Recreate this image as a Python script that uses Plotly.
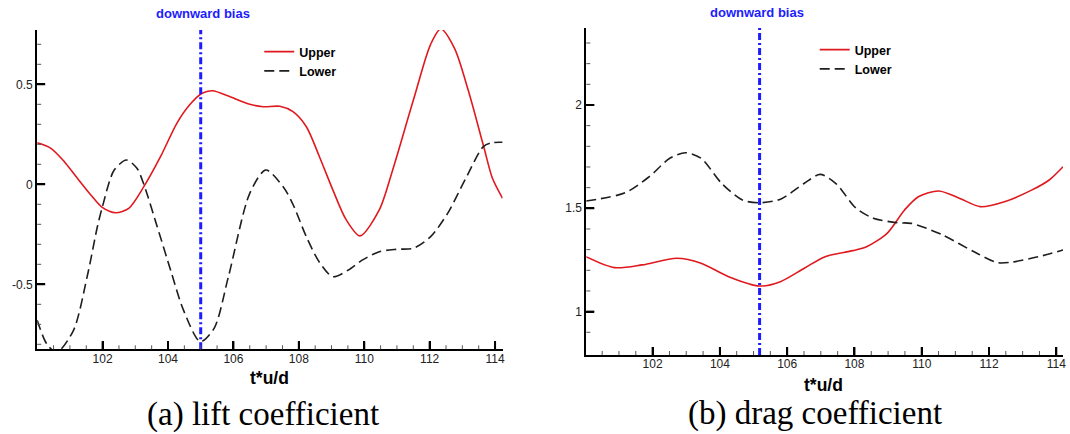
import plotly.graph_objects as go

# ---------------- data ----------------
# (a) lift coefficient
lift_upper_t = [100.0, 100.42, 100.83, 101.23, 101.64, 101.99, 102.4, 102.8, 103.26, 103.77,
                104.27, 104.65, 105.04, 105.36, 105.9, 106.5, 106.91, 107.42, 107.82, 108.23,
                108.63, 109.04, 109.45, 109.87, 110.46, 110.87, 111.5, 112.03, 112.34, 112.76,
                113.18, 113.65, 113.92, 114.23]
lift_upper = [0.208, 0.18, 0.113, 0.03, -0.053, -0.115, -0.142, -0.12, -0.012, 0.138,
              0.305, 0.395, 0.455, 0.468, 0.438, 0.40, 0.388, 0.39, 0.363, 0.288,
              0.138, -0.028, -0.178, -0.258, -0.128, 0.072, 0.42, 0.70, 0.777, 0.68,
              0.47, 0.19, 0.03, -0.07]
lift_lower_t = [100.0, 100.3, 100.6, 101.11, 101.53, 101.84, 101.99, 102.35, 102.73, 103.05,
                103.26, 103.67, 104.1, 104.47, 104.99, 105.41, 105.85, 106.5, 106.99, 107.52,
                107.82, 108.23, 108.63, 109.04, 109.5, 109.95, 110.46, 111.0, 111.5, 112.03,
                112.55, 113.08, 113.65, 113.92, 114.23]
lift_lower = [-0.68, -0.8, -0.84, -0.73, -0.46, -0.212, -0.115, 0.07, 0.1215, 0.08,
              0.0, -0.212, -0.44, -0.628, -0.787, -0.72, -0.46, -0.045, 0.0715, -0.012,
              -0.1, -0.262, -0.39, -0.462, -0.43, -0.378, -0.337, -0.325, -0.32, -0.262,
              -0.145, 0.022, 0.19, 0.208, 0.21]

# (b) drag coefficient
drag_upper_t = [100.02, 100.87, 101.69, 102.72, 103.44, 104.26, 105.18, 105.8, 106.51, 107.13,
                107.95, 108.36, 108.97, 109.49, 109.9, 110.51, 111.13, 111.74, 112.46, 113.28,
                113.79, 114.2]
drag_upper = [1.266, 1.213, 1.226, 1.258, 1.234, 1.169, 1.124, 1.145, 1.21, 1.266,
              1.295, 1.314, 1.379, 1.492, 1.556, 1.584, 1.548, 1.508, 1.532, 1.589,
              1.637, 1.701]
drag_lower_t = [100.02, 101.18, 101.9, 102.51, 102.98, 103.44, 104.05, 104.67, 105.18, 105.8,
                106.51, 106.98, 107.44, 108.05, 108.56, 109.28, 109.69, 110.62, 111.64, 112.25,
                112.66, 113.48, 114.2]
drag_lower = [1.535, 1.575, 1.653, 1.742, 1.769, 1.742, 1.621, 1.54, 1.527, 1.544,
              1.621, 1.664, 1.621, 1.5, 1.452, 1.43, 1.427, 1.371, 1.282, 1.237,
              1.239, 1.266, 1.298]

bias_a = 105.0
bias_b = 105.18

x_ticks = [102, 104, 106, 108, 110, 112, 114]
x_ticklabels = ["102", "104", "106", "108", "110", "112", "114"]
x_minor = [100.5, 101, 101.5, 102.5, 103, 103.5, 104.5, 105, 105.5, 106.5, 107, 107.5,
           108.5, 109, 109.5, 110.5, 111, 111.5, 112.5, 113, 113.5]
lift_ticks = [-0.5, 0, 0.5]
lift_ticklabels = ["-0.5", "0", "0.5"]
lift_minor = [-0.8, -0.7, -0.6, -0.4, -0.3, -0.2, -0.1, 0.1, 0.2, 0.3, 0.4, 0.6, 0.7]
drag_ticks = [1, 1.5, 2]
drag_ticklabels = ["1", "1.5", "2"]
drag_minor = [0.9, 1.1, 1.2, 1.3, 1.4, 1.6, 1.7, 1.8, 1.9, 2.1, 2.2, 2.3]

series_names = ["Upper", "Lower"]
bias_label = "downward bias"
x_title = "t*u/d"
captions = ["(a) lift coefficient", "(b) drag coefficient"]

# ---------------- styles ----------------
RED = "#e0191e"
DARK = "#1e1e1e"
BLUE = "#1c1cff"
SANS = "Liberation Sans, Arial, sans-serif"
SERIF = "Liberation Serif, Times New Roman, serif"
W, H = 1070, 434
SM = 0.8
MAJ_LEN, MIN_LEN = 8, 4

fig = go.Figure()

fig.add_trace(go.Scatter(x=lift_upper_t, y=lift_upper, mode="lines", name=series_names[0],
                         line=dict(color=RED, width=1.6, shape="spline", smoothing=SM),
                         xaxis="x", yaxis="y", legend="legend"))
fig.add_trace(go.Scatter(x=lift_lower_t, y=lift_lower, mode="lines", name=series_names[1],
                         line=dict(color=DARK, width=1.6, dash="10px,5px", shape="spline", smoothing=SM),
                         xaxis="x", yaxis="y", legend="legend"))
fig.add_trace(go.Scatter(x=drag_upper_t, y=drag_upper, mode="lines", name=series_names[0],
                         line=dict(color=RED, width=1.6, shape="spline", smoothing=SM),
                         xaxis="x2", yaxis="y2", legend="legend2"))
fig.add_trace(go.Scatter(x=drag_lower_t, y=drag_lower, mode="lines", name=series_names[1],
                         line=dict(color=DARK, width=1.6, dash="10px,5px", shape="spline", smoothing=SM),
                         xaxis="x2", yaxis="y2", legend="legend2"))

for xr, yr, b in [("x", "y", bias_a), ("x2", "y2", bias_b)]:
    fig.add_shape(type="line", xref=xr, yref=yr + " domain", x0=b, x1=b, y0=0, y1=1,
                  line=dict(color=BLUE, width=3, dash="7px,3px,2px,3px"))

# inside tick marks (drawn as pixel-sized shapes anchored on the axes)
def x_tick(xr, yr, v, length, width, color):
    fig.add_shape(type="line", xref=xr, yref=yr + " domain", ysizemode="pixel", yanchor=0,
                  x0=v, x1=v, y0=0, y1=length, layer="above",
                  line=dict(color=color, width=width))

def y_tick(xr, yr, v, length, width, color):
    fig.add_shape(type="line", xref=xr + " domain", yref=yr, xsizemode="pixel", xanchor=0,
                  x0=0, x1=length, y0=v, y1=v, layer="above",
                  line=dict(color=color, width=width))

for xr, yr, yt, ym in [("x", "y", lift_ticks, lift_minor), ("x2", "y2", drag_ticks, drag_minor)]:
    for v in x_ticks:
        x_tick(xr, yr, v, MAJ_LEN, 2, "black")
    for v in x_minor:
        x_tick(xr, yr, v, MIN_LEN, 1, "#555555")
    for v in yt:
        y_tick(xr, yr, v, MAJ_LEN, 2, "black")
    for v in ym:
        y_tick(xr, yr, v, MIN_LEN, 1, "#555555")

common_axis = dict(showline=True, linecolor="black", linewidth=2, ticks="inside",
                   ticklen=8, tickwidth=2, tickcolor="black", showgrid=False, zeroline=False,
                   tickfont=dict(family=SANS, size=12, color="#222222"))

fig.update_layout(
    width=W, height=H,
    margin=dict(l=0, r=0, t=0, b=0),
    paper_bgcolor="white", plot_bgcolor="white",
    xaxis=dict(domain=[37.3 / W, 504 / W], range=[100.0, 114.23], anchor="y",
               tickvals=x_ticks, ticktext=x_ticklabels, ticklabelstandoff=-3,
               **common_axis),
    yaxis=dict(domain=[(H - 349.3) / H, (H - 30) / H], range=[-0.825, 0.7715], anchor="x",
               tickvals=lift_ticks, ticktext=lift_ticklabels,
               **common_axis),
    xaxis2=dict(domain=[588 / W, 1066 / W], range=[100.03, 114.2], anchor="y2",
                tickvals=x_ticks, ticktext=x_ticklabels, ticklabelstandoff=-3,
                **common_axis),
    yaxis2=dict(domain=[(H - 355) / H, (H - 27.7) / H], range=[0.79, 2.374], anchor="x2",
                tickvals=drag_ticks, ticktext=drag_ticklabels,
                **common_axis),
    legend=dict(x=260 / W, y=(H - 37) / H, xanchor="left", yanchor="top",
                bgcolor="rgba(0,0,0,0)", font=dict(family=SANS, size=12.5, color="black", weight="bold"),
                tracegroupgap=0, itemwidth=30),
    legend2=dict(x=817 / W, y=(H - 35) / H, xanchor="left", yanchor="top",
                 bgcolor="rgba(0,0,0,0)", font=dict(family=SANS, size=12.5, color="black", weight="bold"),
                 tracegroupgap=0, itemwidth=30),
    showlegend=True,
)

annos = [
    dict(x=bias_a, xref="x", y=(H - 14) / H, yref="paper", text="<b>" + bias_label + "</b>", xshift=2,
         showarrow=False, font=dict(family=SANS, size=13, color=BLUE), xanchor="center", yanchor="middle"),
    dict(x=bias_b, xref="x2", y=(H - 12.7) / H, yref="paper", text="<b>" + bias_label + "</b>", xshift=-3,
         showarrow=False, font=dict(family=SANS, size=13, color=BLUE), xanchor="center", yanchor="middle"),
    dict(x=270.6 / W, xref="paper", y=(H - 378) / H, yref="paper", text="<b>" + x_title + "</b>",
         showarrow=False, font=dict(family=SANS, size=17.5, color="black"), xanchor="center", yanchor="middle"),
    dict(x=826.3 / W, xref="paper", y=(H - 385) / H, yref="paper", text="<b>" + x_title + "</b>",
         showarrow=False, font=dict(family=SANS, size=17.5, color="black"), xanchor="center", yanchor="middle"),
    dict(x=263.3 / W, xref="paper", y=(H - 414) / H, yref="paper", text=captions[0],
         showarrow=False, font=dict(family=SERIF, size=33, color="black"), xanchor="center", yanchor="middle"),
    dict(x=817 / W, xref="paper", y=(H - 413) / H, yref="paper", text=captions[1],
         showarrow=False, font=dict(family=SERIF, size=33, color="black"), xanchor="center", yanchor="middle"),
]
fig.update_layout(annotations=annos)

fig.write_html("out.html")
